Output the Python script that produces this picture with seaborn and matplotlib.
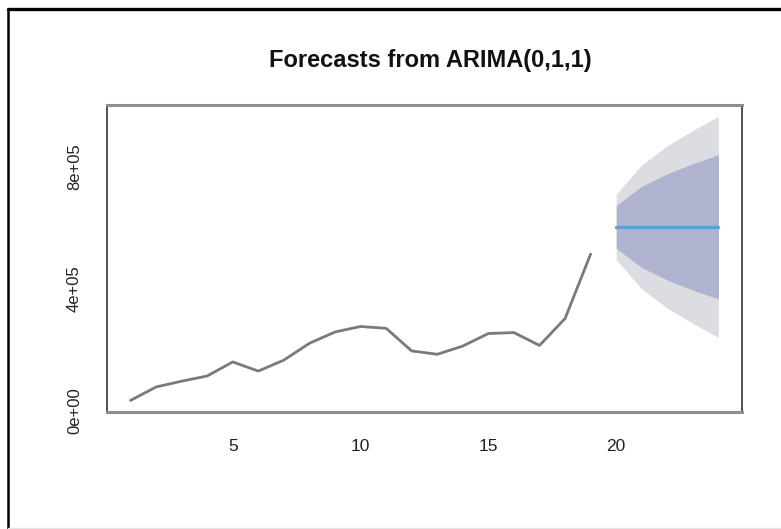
import matplotlib
matplotlib.use("Agg")
import matplotlib.pyplot as plt
from matplotlib.lines import Line2D
import numpy as np
import pandas as pd
import seaborn as sns

# Observed series
periods = list(range(1, 20))
values = [35000, 79000, 98000, 115000, 161000, 131000, 167000, 222000, 259000,
          277000, 271000, 197000, 186000, 213000, 254000, 257000, 215000, 303000, 514000]

# Forecast horizon with point forecast and prediction intervals
fc_periods = [20, 21, 22, 23, 24]
fc_mean = [603000, 603000, 603000, 603000, 603000]
lo80 = [533000, 470000, 429000, 396000, 367000]
hi80 = [673000, 736000, 777000, 810000, 839000]
lo95 = [496000, 400000, 337000, 287000, 241000]
hi95 = [710000, 806000, 869000, 919000, 965000]

title = "Forecasts from ARIMA(0,1,1)"
x_ticks = [5, 10, 15, 20]
y_ticks = [0, 200000, 400000, 600000, 800000]
y_labels = ["0e+00", "", "4e+05", "", "8e+05"]

sns.set_style("white")
plt.rcParams["font.family"] = ["Liberation Sans", "DejaVu Sans"]

obs = pd.DataFrame({"t": periods, "y": values})
fc = pd.DataFrame({"t": fc_periods, "mean": fc_mean,
                   "lo80": lo80, "hi80": hi80, "lo95": lo95, "hi95": hi95})

fig = plt.figure(figsize=(7.81, 5.29), dpi=100)
ax = fig.add_axes([0.137, 0.2217, 0.813, 0.5798])

ax.fill_between(fc["t"], fc["lo95"], fc["hi95"], color="#dcdde2", lw=0)
ax.fill_between(fc["t"], fc["lo80"], fc["hi80"], color="#b0b3d0", lw=0)
sns.lineplot(data=obs, x="t", y="y", ax=ax, color="#7a7a7a", lw=2.0)
sns.lineplot(data=fc, x="t", y="mean", ax=ax, color="#5aa2de", lw=2.4)

ax.set_xlim(0.08, 24.92)
ax.set_ylim(-2000, 1002000)
ax.set_xticks(x_ticks)
ax.set_xticklabels([str(v) for v in x_ticks], fontsize=12.5, color="#222222")
ax.set_yticks(y_ticks)
ax.set_yticklabels(y_labels, fontsize=12, color="#222222", rotation=90, va="center")
ax.set_xlabel("")
ax.set_ylabel("")

ax.tick_params(axis="x", length=7, width=1.2, color="#333333", pad=13, direction="out")
ax.tick_params(axis="y", length=7, width=2.2, color="#a0a0a0", pad=11, direction="out")

for side in ("top", "bottom"):
    ax.spines[side].set_color("#8f8f8f")
    ax.spines[side].set_linewidth(2.2)
for side in ("left", "right"):
    ax.spines[side].set_color("#333333")
    ax.spines[side].set_linewidth(1.2)
    ax.spines[side].set_visible(True)

fig.text(430 / 781, 1 - 60 / 529, title, ha="center", va="center",
         fontsize=17, fontweight="bold", color="#111111")

# Frame edges around the canvas
fig.add_artist(Line2D([8 / 781, 1], [1 - 8.5 / 529] * 2, color="black", lw=2.4))
fig.add_artist(Line2D([8 / 781] * 2, [0, 1 - 8.5 / 529], color="black", lw=1.8))
fig.add_artist(Line2D([8 / 781, 1], [1.5 / 529] * 2, color="#e6e6e6", lw=1.0))

fig.savefig("out.png", dpi=100, facecolor="white")
